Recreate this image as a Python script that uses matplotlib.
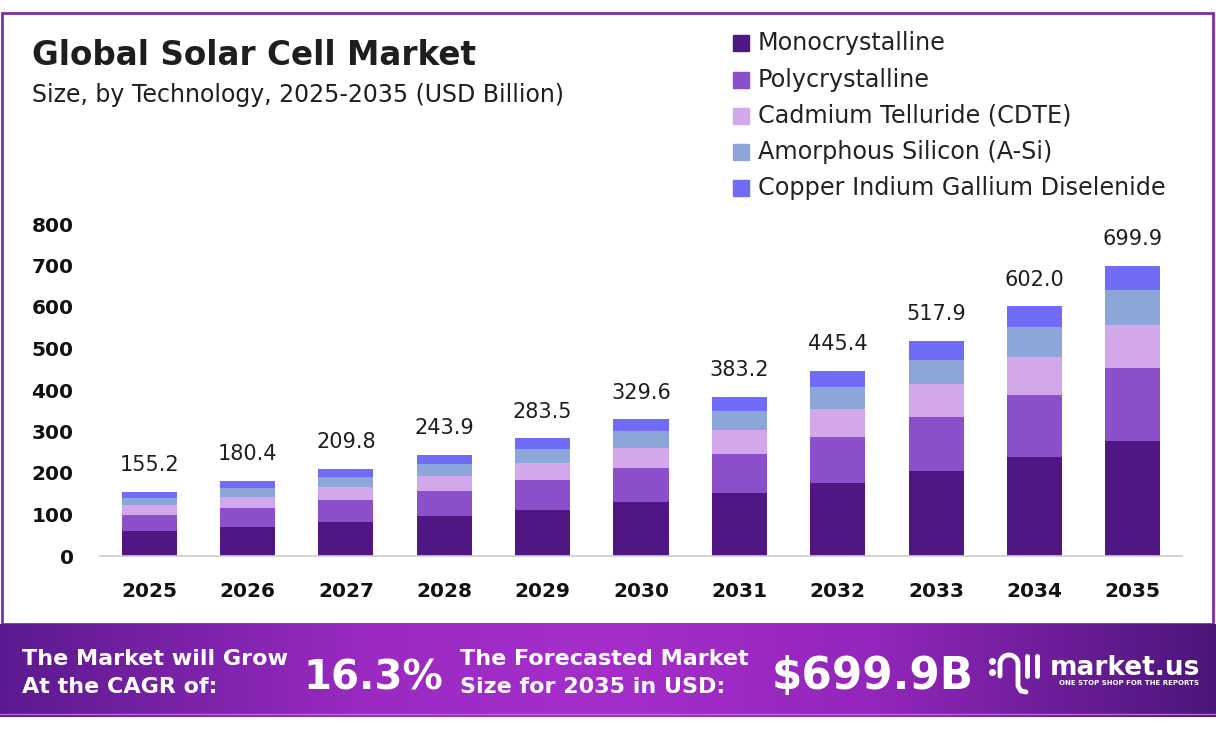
import matplotlib
matplotlib.use("Agg")
import matplotlib.pyplot as plt
import numpy as np
from matplotlib.patches import Rectangle
from matplotlib.colors import LinearSegmentedColormap

years = ["2025", "2026", "2027", "2028", "2029", "2030", "2031", "2032", "2033", "2034", "2035"]
mono = [61.0, 70.0, 82.0, 96.0, 111.0, 129.0, 152.5, 176.0, 205.5, 239.0, 278.0]
poly = [38.0, 45.7, 53.0, 61.0, 72.0, 84.0, 94.0, 111.0, 130.5, 149.0, 176.0]
cdte = [23.0, 26.0, 30.5, 36.0, 42.0, 48.0, 57.5, 67.0, 78.0, 92.0, 103.0]
asi = [18.0, 21.5, 24.5, 29.0, 32.0, 40.0, 45.0, 54.0, 58.0, 72.5, 85.0]
cigs = [15.2, 17.2, 19.8, 21.9, 26.5, 28.6, 34.2, 37.4, 45.9, 49.5, 57.9]

series = ["Monocrystalline", "Polycrystalline", "Cadmium Telluride (CDTE)",
          "Amorphous Silicon (A-Si)", "Copper Indium Gallium Diselenide"]
colors = ["#501684", "#8B4FCB", "#D3A8EA", "#8CA6DA", "#716CF7"]

plt.rcParams['font.family'] = ['DejaVu Sans']

fig = plt.figure(figsize=(12.16, 7.33), dpi=100)

# background layer in pixel coords (frame, banner, legend, texts)
bg = fig.add_axes([0, 0, 1, 1])
bg.set_xlim(0, 1216)
bg.set_ylim(733, 0)
bg.axis('off')

bg.add_patch(Rectangle((1.5, 13), 1211, 611, fill=False, ec="#7B2FA0", lw=2))

cmap = LinearSegmentedColormap.from_list("banner", [
    (0.0, "#5B1A8F"), (0.3, "#9A2AC2"), (0.5, "#A52ECB"),
    (0.72, "#9326BC"), (1.0, "#4B1679")])
grad = np.linspace(0, 1, 512).reshape(1, -1)
bg.imshow(grad, cmap=cmap, aspect='auto', extent=(0, 1216, 717, 624), zorder=1)
bg.plot([0, 1216], [714, 714], color="#B468DC", lw=1, zorder=2)
bg.set_xlim(0, 1216)
bg.set_ylim(733, 0)

# title
bg.text(32, 65, "Global Solar Cell Market", fontsize=23.5, fontweight='bold',
        color="#1E1E1E", va='baseline')
bg.text(32, 102, "Size, by Technology, 2025-2035 (USD Billion)", fontsize=17,
        color="#1E1E1E", va='baseline')

# legend
leg_base = [50, 86.5, 123, 159, 195]
for lab, col, yb in zip(series, colors, leg_base):
    bg.add_patch(Rectangle((733, yb - 15), 16, 16, color=col))
    bg.text(758, yb, lab, fontsize=17.2, color="#222222", va='baseline')

# banner texts
bg.text(22, 665, "The Market will Grow", fontsize=16, fontweight='bold', color='white', va='baseline', zorder=3)
bg.text(22, 693, "At the CAGR of:", fontsize=16, fontweight='bold', color='white', va='baseline', zorder=3)
bg.text(303, 689, "16.3%", fontsize=29, fontweight='bold', color='white', va='baseline', zorder=3)
bg.text(460, 665, "The Forecasted Market", fontsize=16, fontweight='bold', color='white', va='baseline', zorder=3)
bg.text(460, 693, "Size for 2035 in USD:", fontsize=16, fontweight='bold', color='white', va='baseline', zorder=3)
bg.text(772, 689, "$699.9B", fontsize=31.5, fontweight='bold', color='white', va='baseline', zorder=3)
bg.text(1050, 675, "market.us", fontsize=19, fontweight='bold', color='white', va='baseline', zorder=3)
bg.text(1129, 683, "ONE STOP SHOP FOR THE REPORTS", fontsize=5, fontweight='bold', color='white',
        ha='center', va='center', zorder=3)

# logo icon
bg.plot([992], [661], 'o', color='white', ms=4, zorder=3)
bg.plot([992], [672], 'o', color='white', ms=4, zorder=3)
t = np.linspace(np.pi, 0, 30)
arch_x = np.concatenate([[1000, 1000], 1009 + 9 * np.cos(t), [1018, 1018, 1021, 1026]])
arch_y = np.concatenate([[676, 664], 664 - 9 * np.sin(t), [664, 686, 691, 692]])
bg.plot(arch_x, arch_y, color='white', lw=3.5, solid_capstyle='round', zorder=3)
bg.plot([1027, 1027], [656, 676], color='white', lw=3.5, solid_capstyle='round', zorder=3)
bg.plot([1037, 1037], [656, 676], color='white', lw=3.5, solid_capstyle='round', zorder=3)

# chart
ax = fig.add_axes([100 / 1216, 177 / 733, 1082 / 1216, 332 / 733])
ax.patch.set_alpha(0)
x = np.arange(len(years))
bottom = np.zeros(len(years))
for vals, col, lab in zip([mono, poly, cdte, asi, cigs], colors, series):
    ax.bar(x, vals, width=0.56, bottom=bottom, color=col, label=lab, zorder=2)
    bottom = bottom + np.array(vals)

for i, tot in enumerate(bottom):
    ax.annotate(f"{tot:.1f}", (x[i], tot), xytext=(0, 12), textcoords='offset points',
                ha='center', va='bottom', fontsize=15, color="#1E1E1E")

ax.set_xlim(-0.5, 10.5)
ax.set_ylim(0, 800)
ax.set_yticks(range(0, 801, 100))
ax.set_xticks(x)
ax.set_xticklabels(years)
for s in ["top", "right", "left"]:
    ax.spines[s].set_visible(False)
ax.spines["bottom"].set_color("#CCCCCC")
ax.spines["bottom"].set_linewidth(1.2)
ax.tick_params(axis='both', length=0, labelsize=14.5, labelcolor="#111111")
ax.tick_params(axis='y', pad=19)
ax.tick_params(axis='x', pad=19)
for lbl in ax.get_xticklabels() + ax.get_yticklabels():
    lbl.set_fontweight('bold')

fig.savefig("out.png", dpi=100)
